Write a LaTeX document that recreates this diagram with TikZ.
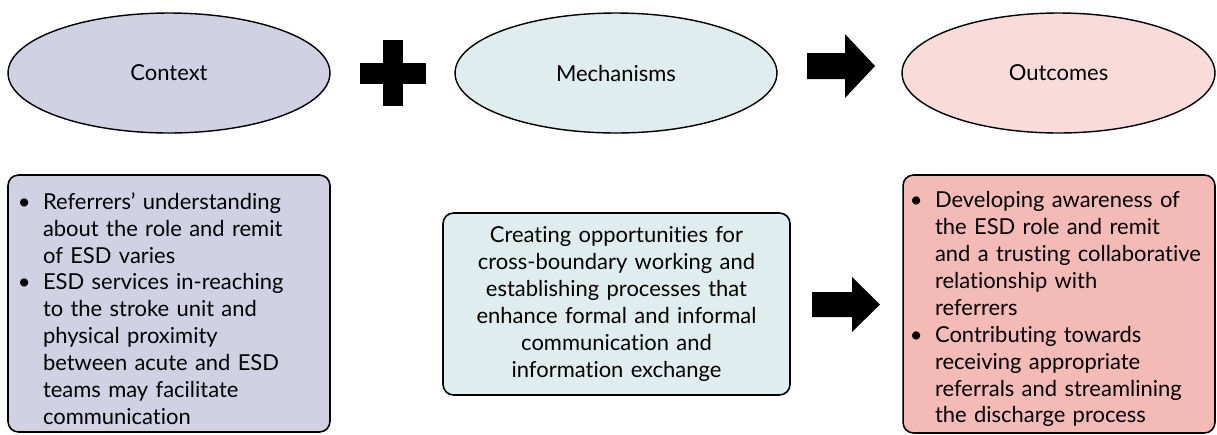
\documentclass[tikz,border=0pt]{standalone}
\usepackage{fontspec}
\setmainfont{Lato}[Ligatures=NoCommon]
\usepackage{enumitem}
\usepackage{tikz}
\usetikzlibrary{shapes.geometric,positioning,calc}
\definecolor{ctxlilac}{RGB}{209,209,227}
\definecolor{mechteal}{RGB}{223,237,238}
\definecolor{outpink}{RGB}{249,220,218}
\definecolor{outrose}{RGB}{243,186,182}
\tikzstyle{oval} = [ellipse, draw=black, line width=0.8pt, minimum width=6.44cm,
    minimum height=2.4cm, inner sep=0pt, font=\fontsize{12.5}{15}\selectfont]
\tikzstyle{block} = [rectangle, rounded corners=6pt, draw=black, line width=0.9pt,
    inner xsep=0.2cm, inner ysep=0pt, font=\fontsize{12.5}{15.3}\selectfont]
\tikzstyle{blockarrow} = [fill=black]
\setlist[itemize]{nosep, label=\textbullet, labelsep=0.25cm, leftmargin=0.5cm}

\begin{document}
\begin{tikzpicture}[x=0.02cm, y=-0.02cm]
\useasboundingbox (0,0) rectangle (1217,434);
% Ovals
\node[oval, fill=ctxlilac] (ctx) at (169,73) {Context};
\node[oval, fill=mechteal] (mech) at (616,73) {Mechanisms};
\node[oval, fill=outpink, minimum width=6.26cm] (outc) at (1058.5,73) {Outcomes};
% Plus
\coordinate (plus) at ($(ctx.east)!0.5!(mech.west)$);
\fill[blockarrow] ($(plus)+(-10,-33)$) rectangle ($(plus)+(10,33)$);
\fill[blockarrow] ($(plus)+(-33,-10.5)$) rectangle ($(plus)+(33,10.5)$);
% Top arrow
\coordinate (arrtop) at (807,66);
\fill[blockarrow] (arrtop) ++(0,-13) -- ++(38,0) -- ++(0,-19) -- ++(30,32)
    -- ++(-30,32) -- ++(0,-19) -- ++(-38,0) -- cycle;
% Context box
\node[block, fill=ctxlilac, minimum width=6.44cm, minimum height=5.14cm,
    text width=6.04cm] (ctxbox) at (169,303.5) {\raggedright
\begin{itemize}
\item Referrers' understanding\\ about the role and remit\\ of ESD varies
\item ESD services in-reaching\\ to the stroke unit and\\ physical proximity\\
    between acute and ESD\\ teams may facilitate\\ communication
\end{itemize}};
% Mechanisms box
\node[block, fill=mechteal, minimum width=6.94cm, minimum height=3.64cm,
    text width=6.54cm, align=center] (mechbox) at (616.5,304)
    {Creating opportunities for\\ cross-boundary working and\\ establishing processes that\\
    enhance formal and informal\\ communication and\\ information exchange};
% Bottom arrow
\coordinate (arrlow) at (812,304.5);
\fill[blockarrow] (arrlow) ++(0,-12.5) -- ++(40,0) -- ++(0,-15) -- ++(28,27.5)
    -- ++(-28,27.5) -- ++(0,-15) -- ++(-40,0) -- cycle;
% Outcomes box
\node[block, fill=outrose, minimum width=6.24cm, minimum height=5.16cm,
    text width=5.84cm] (outbox) at (1059,304) {\raggedright
\begin{itemize}[leftmargin=0.44cm]
\item Developing awareness of\\ the ESD role and remit\\ and a trusting collaborative\\
    relationship with\\ referrers
\item Contributing towards\\ receiving appropriate\\ referrals and streamlining\\
    the discharge process
\end{itemize}};
\end{tikzpicture}
\end{document}
